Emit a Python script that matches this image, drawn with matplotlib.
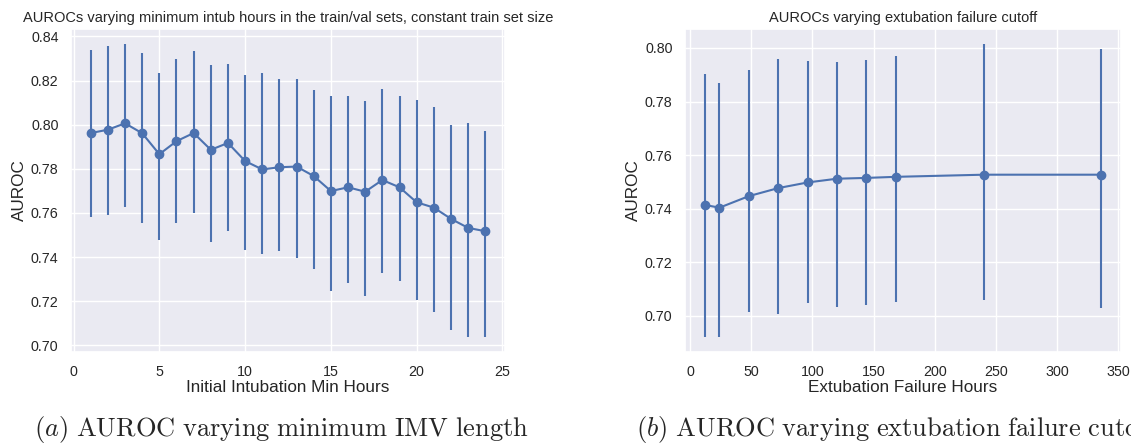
import matplotlib
matplotlib.use("Agg")
import matplotlib.pyplot as plt
import seaborn as sns
import numpy as np

# left panel: minimum intubation hours
intub_hours = list(range(1, 25))
intub_auroc = [0.7962, 0.7977, 0.8006, 0.7961, 0.7866, 0.7925, 0.7962, 0.7886,
               0.7917, 0.7835, 0.7797, 0.7807, 0.7810, 0.7767, 0.7699, 0.7716,
               0.7696, 0.7749, 0.7716, 0.7648, 0.7624, 0.7573, 0.7532, 0.7517]
intub_upper = [0.8338, 0.8356, 0.8367, 0.8323, 0.8236, 0.8299, 0.8335, 0.8269,
               0.8275, 0.8224, 0.8232, 0.8209, 0.8209, 0.8158, 0.8132, 0.8128,
               0.8108, 0.8161, 0.8132, 0.8113, 0.8081, 0.7997, 0.8006, 0.7970]
intub_lower = [0.7582, 0.7591, 0.7627, 0.7552, 0.7475, 0.7552, 0.7601, 0.7468,
               0.7519, 0.7434, 0.7412, 0.7428, 0.7397, 0.7344, 0.7245, 0.7281,
               0.7224, 0.7328, 0.7293, 0.7206, 0.7150, 0.7071, 0.7036, 0.7036]

# right panel: extubation failure cutoff
extub_hours = [12, 24, 48, 72, 96, 120, 144, 168, 240, 336]
extub_auroc = [0.7414, 0.7404, 0.7447, 0.7477, 0.7498, 0.7512, 0.7515, 0.7519,
               0.7527, 0.7527]
extub_upper = [0.7903, 0.7871, 0.7917, 0.7959, 0.7953, 0.7947, 0.7955, 0.7969,
               0.8016, 0.7996]
extub_lower = [0.6920, 0.6920, 0.7013, 0.7007, 0.7049, 0.7032, 0.7040, 0.7050,
               0.7058, 0.7031]

sns.set_theme(style="darkgrid")
plt.rcParams["font.family"] = ["Liberation Sans", "DejaVu Sans"]
plt.rcParams["mathtext.fontset"] = "cm"

W, H = 1131, 445
fig = plt.figure(figsize=(W / 100, H / 100), dpi=100)

def px_axes(l, r, t, b):
    return fig.add_axes([l / W, 1 - b / H, (r - l) / W, (b - t) / H])

ax1 = px_axes(71, 505, 29, 352)
ax2 = px_axes(685, 1121, 29, 352)

color = "#4C72B0"

def draw(ax, x, y, lo, hi):
    y = np.array(y)
    yerr = [y - np.array(lo), np.array(hi) - y]
    ax.errorbar(x, y, yerr=yerr, color=color, marker="o", markersize=6,
                linewidth=1.5, elinewidth=1.5)

draw(ax1, intub_hours, intub_auroc, intub_lower, intub_upper)
draw(ax2, extub_hours, extub_auroc, extub_lower, extub_upper)

ax1.set_xticks([0, 5, 10, 15, 20, 25])
ax1.set_yticks(np.arange(0.70, 0.841, 0.02))
ax1.set_title("AUROCs varying minimum intub hours in the train/val sets, constant train set size",
              fontsize=10.5, pad=5)
ax1.set_xlabel("Initial Intubation Min Hours", fontsize=12.3, labelpad=1)
ax1.set_ylabel("AUROC", fontsize=12.3, labelpad=3)

ax2.set_xticks([0, 50, 100, 150, 200, 250, 300, 350])
ax2.set_yticks(np.arange(0.70, 0.801, 0.02))
ax2.set_title("AUROCs varying extubation failure cutoff", fontsize=10.5, pad=5)
ax2.set_xlabel("Extubation Failure Hours", fontsize=12.3, labelpad=1)
ax2.set_ylabel("AUROC", fontsize=12.3, labelpad=3)

for ax in (ax1, ax2):
    ax.tick_params(labelsize=10.3, pad=3)
    ax.yaxis.set_major_formatter(matplotlib.ticker.FormatStrFormatter("%.2f"))

fig.text(34 / W, 1 - 436 / H, r"$(a)\ \mathrm{AUROC\ varying\ minimum\ IMV\ length}$",
         fontsize=19, ha="left", va="baseline")
fig.text(636 / W, 1 - 436 / H, r"$(b)\ \mathrm{AUROC\ varying\ extubation\ failure\ cutoff}$",
         fontsize=19, ha="left", va="baseline")

fig.savefig("out.png", dpi=100)
